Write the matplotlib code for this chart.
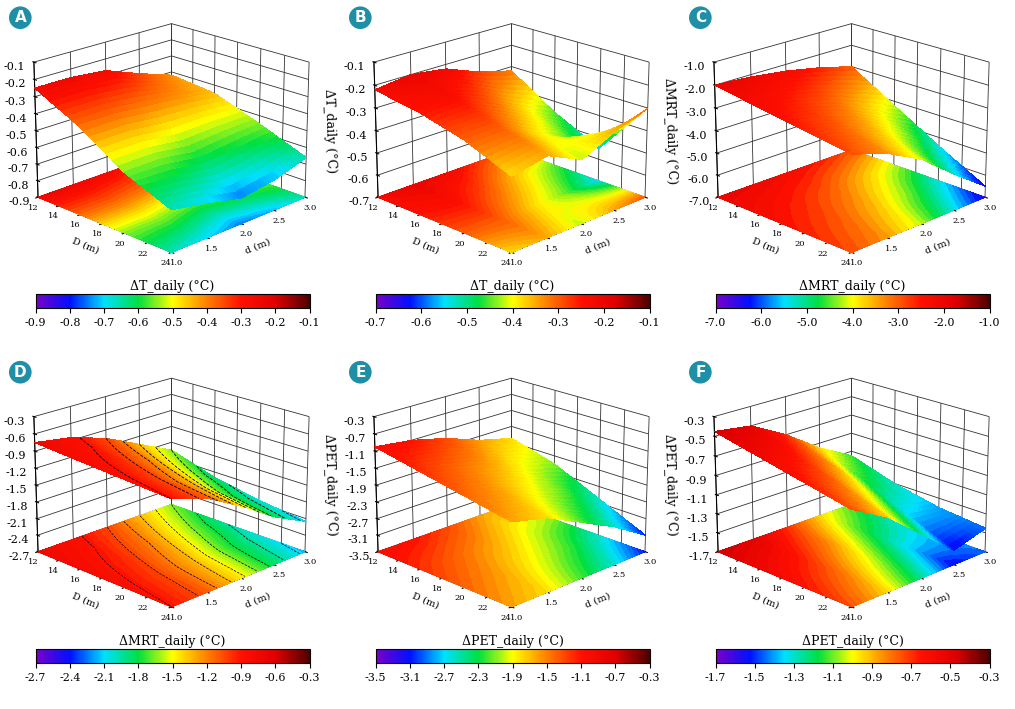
import numpy as np
import matplotlib.pyplot as plt
from matplotlib.colors import LinearSegmentedColormap

D = [12, 16, 20, 24]
d = [1.0, 1.5, 2.0, 2.5, 3.0]

zA = [[-0.25, -0.25, -0.27, -0.35, -0.42],
      [-0.38, -0.38, -0.40, -0.42, -0.45],
      [-0.55, -0.55, -0.58, -0.56, -0.55],
      [-0.66, -0.70, -0.75, -0.72, -0.66]]
zB = [[-0.22, -0.20, -0.22, -0.28, -0.32],
      [-0.25, -0.24, -0.30, -0.38, -0.45],
      [-0.30, -0.30, -0.38, -0.45, -0.55],
      [-0.38, -0.35, -0.42, -0.35, -0.30]]
zC = [[-2.0, -2.1, -2.3, -2.6, -3.0],
      [-2.3, -2.6, -3.0, -3.6, -4.2],
      [-2.6, -3.0, -3.6, -4.4, -5.4],
      [-2.9, -3.4, -4.2, -5.4, -6.5]]
zD = [[-0.75, -0.85, -1.05, -1.35, -1.65],
      [-0.80, -0.95, -1.20, -1.55, -1.90],
      [-0.85, -1.05, -1.35, -1.75, -2.05],
      [-0.90, -1.10, -1.45, -1.85, -2.15]]
zE = [[-1.0, -1.1, -1.3, -1.6, -1.8],
      [-1.2, -1.4, -1.6, -1.9, -2.1],
      [-1.4, -1.6, -1.9, -2.2, -2.6],
      [-1.6, -1.8, -2.2, -2.6, -3.1]]
zF = [[-0.45, -0.50, -0.70, -0.95, -1.15],
      [-0.55, -0.65, -0.85, -1.15, -1.30],
      [-0.65, -0.80, -1.05, -1.35, -1.40],
      [-0.75, -0.95, -1.25, -1.55, -1.45]]

letters = ["A", "B", "C", "D", "E", "F"]
surfaces = [zA, zB, zC, zD, zE, zF]
zlims = [(-0.9, -0.1), (-0.7, -0.1), (-7.0, -1.0), (-2.7, -0.3), (-3.5, -0.3), (-1.7, -0.3)]
zticks = [np.arange(-0.9, -0.05, 0.1), np.arange(-0.7, -0.05, 0.1), np.arange(-7.0, -0.5, 1.0),
          np.arange(-2.7, -0.25, 0.3), np.arange(-3.5, -0.25, 0.4), np.arange(-1.7, -0.25, 0.2)]
cbticks = [np.arange(-0.9, -0.05, 0.1), np.arange(-0.7, -0.05, 0.1), np.arange(-7.0, -0.5, 1.0),
           np.arange(-2.7, -0.25, 0.3), np.arange(-3.5, -0.25, 0.4), np.arange(-1.7, -0.25, 0.2)]
zlabels = ["ΔT_daily (°C)", "ΔT_daily (°C)", "ΔMRT_daily (°C)",
           "ΔMRT_daily (°C)", "ΔPET_daily (°C)", "ΔPET_daily (°C)"]

cmap = LinearSegmentedColormap.from_list("rb", ["#7a00c8", "#0010ff", "#00e0ff", "#00e040", "#ffff00",
                                                "#ff8000", "#ff1000", "#e00000", "#500000"])


def refine(Z, n=8):
    # bilinear upsampling for smooth shading only
    Z = np.asarray(Z, float)
    xi = np.linspace(0, Z.shape[0] - 1, (Z.shape[0] - 1) * n + 1)
    yi = np.linspace(0, Z.shape[1] - 1, (Z.shape[1] - 1) * n + 1)
    tmp = np.array([np.interp(xi, np.arange(Z.shape[0]), Z[:, j]) for j in range(Z.shape[1])]).T
    return np.array([np.interp(yi, np.arange(Z.shape[1]), row) for row in tmp]), xi, yi


fig = plt.figure(figsize=(10.15, 7.09), dpi=100)
for i in range(6):
    r, c = divmod(i, 3)
    left = -0.02 + c * 0.335
    bottom = 0.6 - r * 0.5
    ax = fig.add_axes([left, bottom, 0.37, 0.42], projection="3d")
    Zf, xi, yi = refine(surfaces[i])
    X = np.interp(xi, np.arange(len(D)), D)
    Y = np.interp(yi, np.arange(len(d)), d)
    X, Y = np.meshgrid(X, Y, indexing="ij")
    lo, hi = zlims[i]
    lev = np.linspace(lo, hi, 17)
    ax.plot_surface(X, Y, Zf, cmap=cmap, vmin=lo, vmax=hi, rstride=1, cstride=1,
                    linewidth=0, antialiased=False, shade=False)
    ax.contour(X, Y, Zf, levels=lev, colors="k", linewidths=0.6)
    ax.contourf(X, Y, Zf, levels=40, cmap=cmap, vmin=lo, vmax=hi, offset=lo)
    ax.contour(X, Y, Zf, levels=lev, colors="k", linewidths=0.5, offset=lo)
    ax.set_zlim(lo, hi)
    ax.set_xlim(12, 24)
    ax.set_ylim(1.0, 3.0)
    ax.set_zticks(zticks[i])
    ax.set_zticklabels([f"{v:.1f}" for v in zticks[i]], fontsize=8, family="serif")
    ax.set_xticks([12, 14, 16, 18, 20, 22, 24])
    ax.set_xticklabels(["12", "14", "16", "18", "20", "22", "24"], fontsize=6, family="serif")
    ax.set_yticks(d)
    ax.set_yticklabels([f"{v:.1f}" for v in d], fontsize=6, family="serif")
    ax.set_xlabel("D (m)", fontsize=7, family="serif", labelpad=-8)
    ax.set_ylabel("d (m)", fontsize=7, family="serif", labelpad=-8)
    ax.set_zlabel(zlabels[i], fontsize=9, family="serif", labelpad=-2)
    ax.view_init(elev=20, azim=-45)
    ax.zaxis._axinfo["juggled"] = (1, 2, 0)
    for a in (ax.xaxis, ax.yaxis, ax.zaxis):
        a.set_pane_color((1, 1, 1, 0))
        a._axinfo["grid"]["color"] = (0.2, 0.2, 0.2, 1)
        a._axinfo["grid"]["linewidth"] = 0.6
    ax.tick_params(axis="x", pad=-4)
    ax.tick_params(axis="y", pad=-4)
    ax.tick_params(axis="z", pad=0)
    fig.text(c * 0.335 + 0.02, 0.975 - r * 0.5, letters[i], fontsize=11, weight="bold", color="white",
             ha="center", va="center",
             bbox=dict(boxstyle="circle,pad=0.25", fc="#1f8fa8", ec="none"))
    cax = fig.add_axes([c * 0.335 + 0.035, 0.565 - r * 0.5, 0.27, 0.02])
    sm = plt.cm.ScalarMappable(cmap=cmap, norm=plt.Normalize(lo, hi))
    cb = fig.colorbar(sm, cax=cax, orientation="horizontal")
    cb.set_ticks(cbticks[i])
    cb.ax.set_xticklabels([f"{v:.1f}" for v in cbticks[i]], fontsize=8, family="serif")
    cb.ax.set_title(zlabels[i], fontsize=9, family="serif", pad=3)
    cb.outline.set_linewidth(0.8)

fig.savefig("out.png", dpi=100)
